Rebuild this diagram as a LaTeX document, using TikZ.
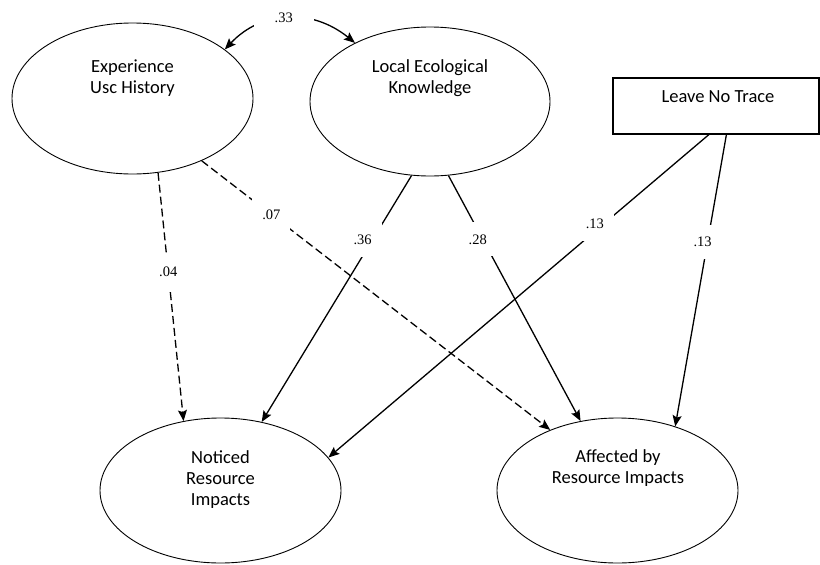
\documentclass[tikz,border=0pt]{standalone}
\usepackage{fontspec}
\setmainfont{Carlito}
\newfontfamily\numfont{Liberation Serif}
\usetikzlibrary{shapes.geometric,arrows.meta}
\begin{document}
\begin{tikzpicture}[x=1pt,y=-1pt,
  >={Stealth[length=11pt,width=9pt,inset=2pt]},
  latent/.style={draw, ellipse, line width=0.9pt, minimum width=241pt, minimum height=150pt, inner sep=0pt},
  observed/.style={draw, rectangle, line width=1.2pt, minimum width=206pt, minimum height=56pt, inner sep=0pt},
  inlbl/.style={align=center, font=\fontsize{18.5}{21}\selectfont, inner sep=0pt},
  sigpath/.style={line width=1.3pt, ->},
  nonsig/.style={sigpath, dash pattern=on 8pt off 4pt},
  coef/.style={fill=white, inner xsep=10pt, inner ysep=12pt, font=\numfont\fontsize{14.5}{16}\selectfont}]

\useasboundingbox (0,0) rectangle (820,565);

% latent variables and observed variable
\node[latent, minimum height=151pt] (exp) at (132.5,98.5) {};
\node[latent, minimum width=240pt, minimum height=149pt] (loc) at (430,101.5) {};
\node[observed] (lnt) at (716,106) {};
\node[latent, minimum height=145pt] (not) at (220.5,490.5) {};
\node[latent, minimum height=145pt] (aff) at (617.5,490.5) {};

% texts
\node[inlbl] (expt) at (132.5,78) {Experience\\Usc History};
\node[inlbl] (loct) at (430,78.5) {Local Ecological\\Knowledge};
\node[inlbl] (lntt) at (718,97) {Leave No Trace};
\node[inlbl] (nott) at (220.5,479.5) {Noticed\\Resource\\Impacts};
\node[inlbl] (afft) at (618,468) {Affected by\\Resource Impacts};

% correlation
\draw[line width=1.3pt, <->] (exp.28.9) .. controls (262,10) and (312,8) ..
  node[coef, inner xsep=21pt, inner ysep=8pt, pos=0.5, xshift=-4pt] (c33) {.33} (loc.142.9);

% paths
\draw[nonsig] (exp.-71.6) -- node[coef, pos=0.40] (c04) {.04} (not.118.6);
\draw[nonsig] (exp.-42.4) -- node[coef, pos=0.20] (c07) {.07} (aff.138.8);
\draw[sigpath] (loc.-104.8) -- node[coef, pos=0.26, xshift=-10pt] (c36) {.36} (not.59.5);
\draw[sigpath] (loc.-76.6) -- node[coef, pos=0.26, xshift=-5pt] (c28) {.28} (aff.118.3);
\draw[sigpath] (lnt.-104) -- node[coef, pos=0.276, xshift=-9pt] (c13a) {.13} (not.17);
\draw[sigpath] (lnt.-70.3) -- node[coef, pos=0.368, xshift=-5pt] (c13b) {.13} (aff.48.6);
\end{tikzpicture}
\end{document}
